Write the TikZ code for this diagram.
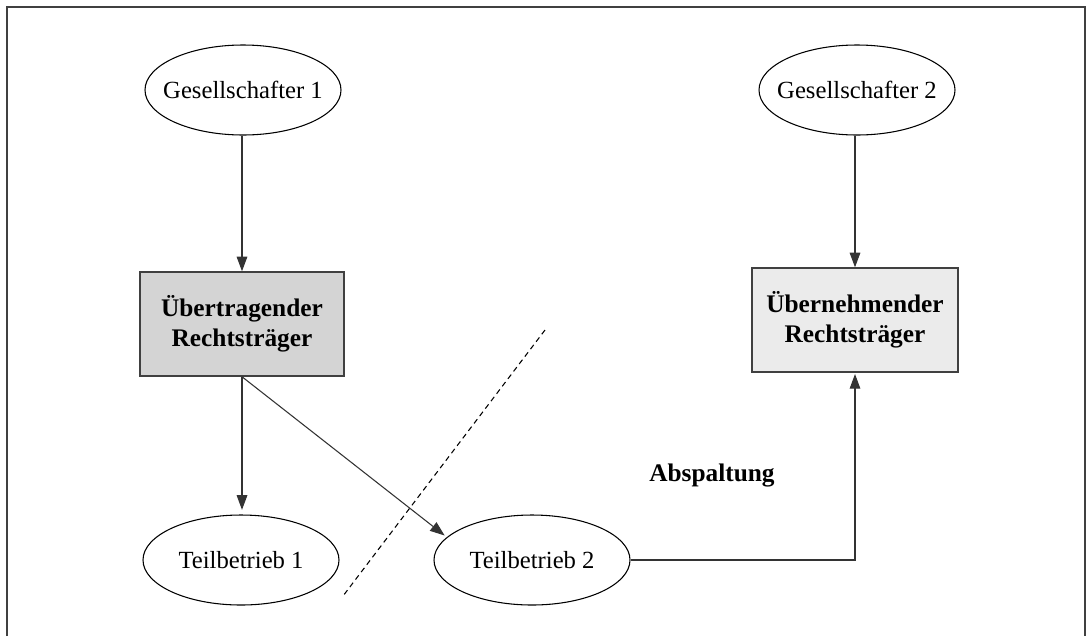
\documentclass[tikz,border=0pt]{standalone}
\usepackage{fontspec}
\setmainfont{Liberation Serif}
\usetikzlibrary{shapes.geometric,arrows.meta}
\begin{document}
\begin{tikzpicture}[x=0.75pt,y=-0.75pt,
  every node/.style={font=\fontsize{18.5}{22.5}\selectfont},
  oval/.style={ellipse,draw=black,line width=0.8pt,minimum width=147pt,minimum height=67.5pt,inner sep=0pt},
  entity/.style={rectangle,draw=black!75,line width=1.1pt,minimum width=153pt,minimum height=78pt,inner sep=0pt,align=center,font=\fontsize{19}{22.5}\selectfont\bfseries},
  conn/.style={draw=black!80,line width=0.8pt,-{Triangle[length=11pt,width=8pt]}},
  cutline/.style={draw=black,line width=0.8pt,dash pattern=on 4pt off 3pt},
  frameline/.style={draw=black!75,line width=1.1pt}]
\useasboundingbox (0,0) rectangle (1087,636);
\draw[frameline] (7,636) -- (7,7) -- (1085,7) -- (1085,636);

\node[oval] (g1) at (243,90) {\makebox[0pt]{Gesellschafter 1}};
\node[oval] (g2) at (857,90) {\makebox[0pt]{Gesellschafter 2}};
\node[entity,fill=black!17] (b1) at (242,324) {Übertragender\\Rechtsträger};
\node[entity,fill=black!8,minimum width=154.5pt] (b2) at (855,320) {Übernehmender\\Rechtsträger};
\node[oval] (t1) at (241,560) {\makebox[0pt]{Teilbetrieb 1}};
\node[oval] (t2) at (532,560) {\makebox[0pt]{Teilbetrieb 2}};
\node[font=\fontsize{19}{22.5}\selectfont\bfseries] (abs) at (712,475) {Abspaltung};

\coordinate (cutA) at (545,330);
\coordinate (cutB) at (343,596);
\draw[cutline] (cutA) -- (cutB);

\draw[conn] (g1.south -| b1.north) -- (b1.north);
\draw[conn] (g2.south -| b2.north) -- (b2.north);
\draw[conn,shorten >=3.5pt] (b1.south) -- (b1.south |- t1.north);
\draw[conn,shorten >=2pt] (b1.south) -- (t2.165);
\draw[conn,shorten >=1pt] (t2.east) -| (b2.south);
\end{tikzpicture}
\end{document}
